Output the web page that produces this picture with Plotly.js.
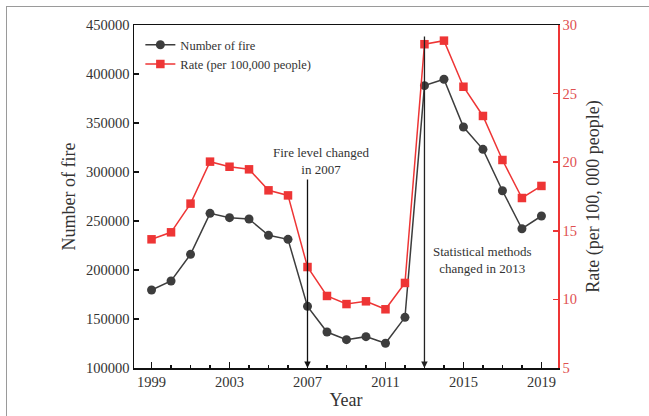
<!DOCTYPE html>
<html>
<head>
<meta charset="utf-8">
<script src="https://cdn.plot.ly/plotly-3.0.1.min.js"></script>
<style>
  html, body { margin: 0; padding: 0; background: #fff; }
  #wrap { position: relative; width: 649px; height: 416px; }
  #chart { width: 649px; height: 416px; }
  #frame { position: absolute; left: 6px; top: 6px; right: 0; bottom: 0;
           border-left: 1px solid #9a9a9a; border-top: 1px solid #9a9a9a; pointer-events: none; }
</style>
</head>
<body>
<div id="wrap">
  <div id="chart"></div>
  <div id="frame"></div>
</div>
<script>
const years = [1999,2000,2001,2002,2003,2004,2005,2006,2007,2008,2009,2010,2011,2012,2013,2014,2015,2016,2017,2018,2019];
const numberOfFire = [179600,188800,216000,257800,253400,252000,235400,231300,162900,136700,128900,132000,125200,151700,388100,394600,345900,323100,280900,242100,255100];
const ratePer100k = [14.38,14.89,16.98,20.04,19.67,19.48,17.95,17.58,12.36,10.25,9.66,9.86,9.28,11.2,28.6,28.86,25.5,23.37,20.16,17.39,18.27];
const xTickVals = [1999,2003,2007,2011,2015,2019];
const annotationTexts = ["Fire level changed<br>in 2007", "Statistical methods<br>changed in 2013"];
const eventYears = [2007, 2013];

const FONT = "Liberation Serif, Times New Roman, serif";
const BLACK = "#3d3d3d";
const RED = "#ee3535";

const traces = [
  {
    x: years, y: numberOfFire, name: "Number of fire", type: "scatter", mode: "lines+markers",
    line: {color: BLACK, width: 1.5},
    marker: {color: BLACK, size: 9, symbol: "circle"},
    yaxis: "y"
  },
  {
    x: years, y: ratePer100k, name: "Rate (per 100,000 people)", type: "scatter", mode: "lines+markers",
    line: {color: RED, width: 1.5},
    marker: {color: RED, size: 8.5, symbol: "square"},
    yaxis: "y2"
  }
];

const layout = {
  width: 649, height: 416,
  margin: {l: 134, r: 91, t: 25, b: 48},
  paper_bgcolor: "#fff", plot_bgcolor: "#fff",
  font: {family: FONT, color: "#333"},
  showlegend: true,
  legend: {
    x: 0.015, y: 0.985, xanchor: "left", yanchor: "top",
    bgcolor: "rgba(0,0,0,0)", font: {family: FONT, size: 12.5, color: "#333"},
    tracegroupgap: 0, itemwidth: 30
  },
  xaxis: {
    range: [1998.1, 2019.85],
    tickvals: xTickVals,
    ticks: "inside", ticklen: 6, tickwidth: 1.5, tickcolor: "#111",
    minor: {dtick: 1, tick0: 1999, ticks: "inside", ticklen: 3, tickwidth: 1.5, tickcolor: "#111"},
    showline: true, linecolor: "#111", linewidth: 1.5, mirror: true,
    showgrid: false, zeroline: false,
    tickfont: {family: FONT, size: 14.5, color: "#333"},
    title: {text: "Year", font: {family: FONT, size: 18, color: "#333"}, standoff: 4}
  },
  yaxis: {
    range: [100000, 450000], dtick: 50000, tick0: 100000, tickformat: "d",
    ticks: "inside", ticklen: 5, tickwidth: 1.5, tickcolor: "#111",
    showline: true, linecolor: "#111", linewidth: 1.5,
    showgrid: false, zeroline: false,
    tickfont: {family: FONT, size: 14.5, color: "#333"},
    title: {text: "Number of fire", font: {family: FONT, size: 18, color: "#333"}, standoff: 6}
  },
  yaxis2: {
    range: [5, 30], dtick: 5, tick0: 5,
    overlaying: "y", side: "right",
    ticks: "inside", ticklen: 5, tickwidth: 1.5, tickcolor: RED,
    showline: true, linecolor: RED, linewidth: 1.5,
    showgrid: false, zeroline: false,
    tickfont: {family: FONT, size: 14.5, color: "#e05050"},
    title: {text: "Rate (per 100, 000 people)", font: {family: FONT, size: 18, color: "#333"}, standoff: 10}
  },
  annotations: [
    {x: eventYears[0], y: 100000, xref: "x", yref: "y", axref: "x", ayref: "y",
     ax: eventYears[0], ay: 293900, showarrow: true, arrowhead: 2, arrowsize: 1, arrowwidth: 1.3,
     arrowcolor: "#111", standoff: 0, text: ""},
    {x: eventYears[1], y: 100000, xref: "x", yref: "y", axref: "x", ayref: "y",
     ax: eventYears[1], ay: 439800, showarrow: true, arrowhead: 2, arrowsize: 1, arrowwidth: 1.3,
     arrowcolor: "#222", standoff: 0, text: ""},
    {x: 2007.7, y: 311000, xref: "x", yref: "y", showarrow: false, text: annotationTexts[0],
     font: {family: FONT, size: 13, color: "#333"}, align: "center", yanchor: "middle"},
    {x: 2016.0, y: 210000, xref: "x", yref: "y", showarrow: false, text: annotationTexts[1],
     font: {family: FONT, size: 13, color: "#333"}, align: "center", yanchor: "middle"}
  ]
};

Plotly.newPlot("chart", traces, layout, {displayModeBar: false, staticPlot: true});
</script>
</body>
</html>
